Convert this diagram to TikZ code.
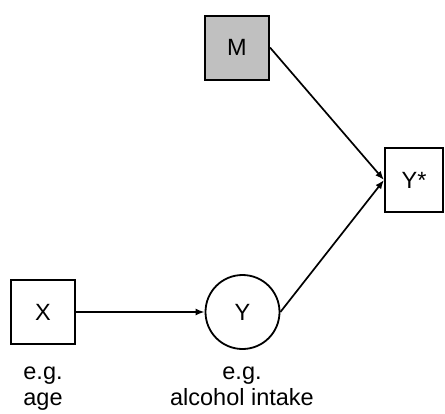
\documentclass[tikz,border=0pt]{standalone}
\usepackage{fontspec}
\setmainfont{Liberation Sans}
\usetikzlibrary{arrows.meta}
\definecolor{mgray}{HTML}{C0C0C0}
\begin{document}
\begin{tikzpicture}[x=1pt,y=-1pt,
  every node/.style={font=\fontsize{23.5}{25.5}\selectfont},
  box/.style={draw, line width=2pt, minimum width=64pt, minimum height=64pt, inner sep=0pt},
  arr/.style={-{Latex[length=9pt,width=7pt]}, line width=1.7pt}]
\useasboundingbox (0,0) rectangle (445,413);
% variables
\node[box, fill=mgray] (m) at (237,47.5) {M};
\node[box, minimum width=58pt] (ystar) at (414,180) {Y*};
\node[box] (x) at (43,312) {X};
\node[draw, circle, line width=1.8pt, minimum size=74pt, inner sep=0pt] (y) at (242.5,312) {Y};
% examples
\node[align=center, anchor=base] (xlab) at (43,405) {e.g.\\age};
\node[align=center, anchor=base] (ylab) at (242,405) {e.g.\\alcohol intake};
% paths
\draw[arr] (x.east) -- (y.west);
\draw[arr] (m.east) -- (ystar.west);
\draw[arr] (y.east) -- (ystar.west);
\end{tikzpicture}
\end{document}
